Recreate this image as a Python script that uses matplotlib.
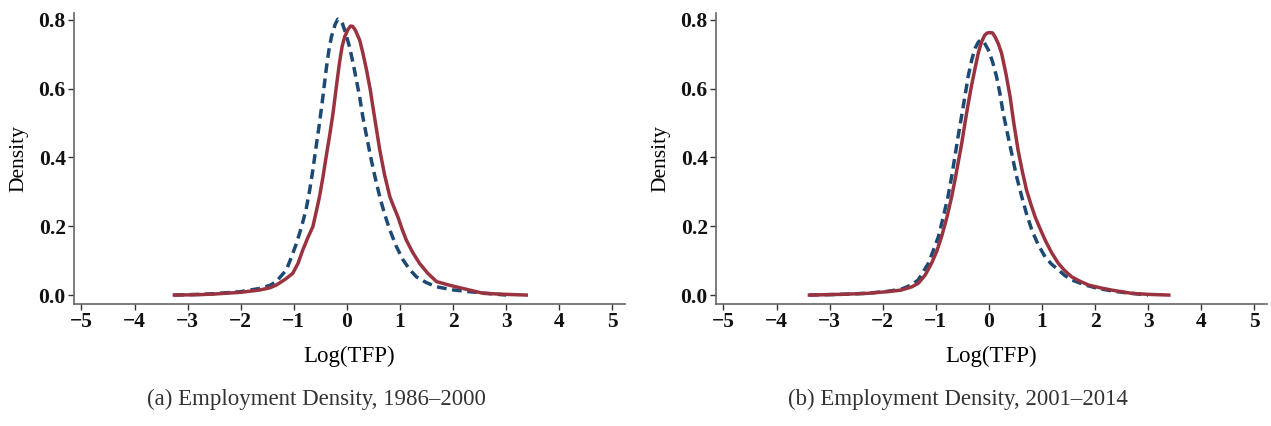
import matplotlib
matplotlib.use("Agg")
from matplotlib import pyplot as plt

# panel (a) 1986-2000
a_red_x = [-3.25, -2.8, -2.5, -2.0, -1.65, -1.45, -1.33, -1.15, -1.02, -0.92, -0.83, -0.74, -0.64, -0.58, -0.515,
           -0.45, -0.39, -0.32, -0.26, -0.2, -0.14, -0.09, -0.04, 0.02, 0.07, 0.11, 0.16, 0.24, 0.30, 0.37,
           0.44, 0.50, 0.56, 0.62, 0.71, 0.81, 0.88, 0.96, 1.04, 1.12, 1.24, 1.37, 1.52, 1.69, 1.95, 2.19,
           2.57, 3.0, 3.38]
a_red_y = [0.0, 0.001, 0.003, 0.008, 0.0145, 0.021, 0.029, 0.047, 0.063, 0.092, 0.131, 0.165, 0.199, 0.24, 0.286,
           0.343, 0.402, 0.468, 0.529, 0.603, 0.674, 0.722, 0.751, 0.772, 0.782, 0.781, 0.770, 0.742, 0.705, 0.655,
           0.598, 0.538, 0.480, 0.422, 0.350, 0.286, 0.258, 0.228, 0.192, 0.160, 0.124, 0.092, 0.064, 0.039, 0.028,
           0.019, 0.005, 0.002, 0.0]
a_blue_x = [-3.25, -2.8, -2.5, -2.0, -1.65, -1.45, -1.33, -1.14, -1.05, -0.95, -0.86, -0.77, -0.70, -0.64, -0.58,
            -0.515, -0.45, -0.39, -0.34, -0.29, -0.22, -0.17, -0.12, -0.08, -0.03, 0.05, 0.12, 0.18, 0.24, 0.30,
            0.38, 0.46, 0.54, 0.62, 0.71, 0.81, 0.93, 1.06, 1.18, 1.31, 1.5, 1.69, 2.0, 2.32, 2.7, 3.0]
a_blue_y = [0.0, 0.002, 0.004, 0.010, 0.019, 0.028, 0.039, 0.073, 0.108, 0.150, 0.195, 0.247, 0.305, 0.364, 0.430,
            0.50, 0.578, 0.655, 0.710, 0.751, 0.787, 0.802, 0.798, 0.788, 0.765, 0.722, 0.672, 0.625, 0.577, 0.519,
            0.455, 0.393, 0.337, 0.286, 0.236, 0.189, 0.142, 0.102, 0.075, 0.053, 0.036, 0.024, 0.015, 0.0097,
            0.004, 0.0]

# panel (b) 2001-2014
b_red_x = [-3.38, -2.8, -2.28, -1.9, -1.65, -1.45, -1.33, -1.2, -1.08, -0.98, -0.89, -0.79, -0.70, -0.64, -0.58,
           -0.51, -0.45, -0.39, -0.33, -0.26, -0.20, -0.14, -0.08, -0.03, 0.02, 0.07, 0.12, 0.18, 0.24, 0.32,
           0.40, 0.47, 0.55, 0.63, 0.71, 0.79, 0.87, 0.96, 1.06, 1.18, 1.31, 1.43, 1.56, 1.72, 1.88, 2.1, 2.31,
           2.69, 3.0, 3.39]
b_red_y = [0.0, 0.002, 0.005, 0.010, 0.0145, 0.024, 0.034, 0.058, 0.092, 0.128, 0.170, 0.226, 0.286, 0.333, 0.383,
           0.442, 0.50, 0.555, 0.606, 0.659, 0.703, 0.735, 0.755, 0.762, 0.763, 0.762, 0.750, 0.730, 0.703, 0.645,
           0.577, 0.500, 0.422, 0.360, 0.305, 0.265, 0.228, 0.195, 0.160, 0.124, 0.092, 0.071, 0.053, 0.040, 0.029,
           0.021, 0.0145, 0.005, 0.002, 0.0]
b_blue_x = [-3.38, -2.8, -2.3, -1.9, -1.65, -1.45, -1.33, -1.14, -1.05, -0.95, -0.86, -0.77, -0.70, -0.64, -0.58,
            -0.515, -0.45, -0.39, -0.32, -0.26, -0.20, -0.15, -0.09, -0.01, 0.07, 0.145, 0.21, 0.27, 0.35, 0.43,
            0.52, 0.62, 0.71, 0.81, 0.93, 1.06, 1.18, 1.31, 1.43, 1.56, 1.8, 2.06, 2.4, 2.69, 3.0]
b_blue_y = [0.0, 0.002, 0.005, 0.011, 0.017, 0.030, 0.044, 0.092, 0.128, 0.170, 0.226, 0.286, 0.345, 0.402, 0.460,
            0.519, 0.578, 0.635, 0.685, 0.717, 0.735, 0.742, 0.735, 0.713, 0.678, 0.635, 0.585, 0.529, 0.470, 0.412,
            0.346, 0.286, 0.236, 0.189, 0.146, 0.111, 0.090, 0.073, 0.057, 0.044, 0.030, 0.019, 0.010, 0.005, 0.0]

xticks = [-5, -4, -3, -2, -1, 0, 1, 2, 3, 4, 5]
yticks = [0.0, 0.2, 0.4, 0.6, 0.8]
captions = ["(a) Employment Density, 1986\u20132000", "(b) Employment Density, 2001\u20132014"]

RED = "#993340"
BLUE = "#1c4a74"

plt.rcParams["font.family"] = ["Liberation Serif", "DejaVu Serif"]

fig = plt.figure(figsize=(12.71, 4.26), dpi=100)
W, H = 1271.0, 426.0

panels = [
    (74, a_red_x, a_red_y, a_blue_x, a_blue_y),
    (716, b_red_x, b_red_y, b_blue_x, b_blue_y),
]

for i, (left, rx, ry, bx, by) in enumerate(panels):
    ax = fig.add_axes([left / W, 1 - 304 / H, 551 / W, 291 / H])
    ax.plot(bx, by, color=BLUE, lw=2.5, linestyle=(0, (2.8, 1.6)), solid_joinstyle="round")
    ax.plot(rx, ry, color=RED, lw=2.5, solid_joinstyle="round")
    ax.set_xlim(-5.14, 5.24)
    ax.set_ylim(-0.026, 0.82)
    ax.set_xticks(xticks)
    ax.set_xticklabels(["\u2212" + str(-t) if t < 0 else str(t) for t in xticks], fontweight="bold")
    ax.set_yticks(yticks)
    ax.set_yticklabels(["%.1f" % t for t in yticks], fontweight="bold")
    for s in ["top", "right"]:
        ax.spines[s].set_visible(False)
    for s in ["left", "bottom"]:
        ax.spines[s].set_color("#666666")
        ax.spines[s].set_linewidth(1.2)
    ax.tick_params(direction="out", length=4, width=1, color="#333333", labelsize=15.5, pad=2,
                   labelcolor="#111111")
    ax.set_xlabel("Log(TFP)", fontsize=16.5, labelpad=10)
    ax.set_ylabel("Density", fontsize=15.5, labelpad=7)
    fig.text((left + 242) / W, 1 - 399 / H, captions[i], ha="center", va="center",
             fontsize=16.5, color="#333333")

fig.savefig("out.png", dpi=100)
